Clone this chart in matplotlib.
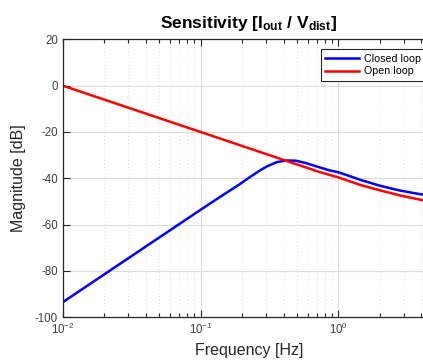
import matplotlib
matplotlib.use('Agg')
import matplotlib.pyplot as plt
from matplotlib.ticker import LogLocator, NullFormatter

plt.rcParams['font.family'] = ['Liberation Sans', 'DejaVu Sans']
plt.rcParams['mathtext.fontset'] = 'custom'
plt.rcParams['mathtext.rm'] = 'Liberation Sans'
plt.rcParams['mathtext.bf'] = 'Liberation Sans:bold'
plt.rcParams['mathtext.it'] = 'Liberation Sans:italic'
plt.rcParams['axes.unicode_minus'] = False

# Values (frequency in Hz, magnitude in dB)
freq_closed = [0.01, 0.1, 0.138, 0.17, 0.193, 0.22, 0.24, 0.27, 0.30, 0.357,
               0.42, 0.49, 0.58, 0.73, 0.865, 1.0, 1.2, 1.43, 2.0, 2.8, 3.96, 5.0]
mag_closed = [-93.5, -53.6, -48.1, -44.6, -42.5, -40.1, -38.6, -36.6, -35.0, -33.0,
              -32.3, -32.4, -33.4, -35.3, -36.6, -37.4, -39.0, -40.6, -43.2,
              -45.3, -46.9, -47.8]

freq_open = [0.01, 0.1, 0.5, 0.73, 1.0, 1.43, 2.0, 2.8, 3.96, 5.0]
mag_open = [0.0, -20.0, -34.0, -37.3, -39.6, -42.8, -45.2, -47.4, -49.3, -50.6]

labels = ['Closed loop', 'Open loop']
colors = ['#0000ff', '#ff0000']
y_ticks = [-100, -80, -60, -40, -20, 0, 20]

W, H = 423, 363
fig = plt.figure(figsize=(W / 100, H / 100), dpi=100)
ax = fig.add_axes([62.7 / W, 1 - 317.3 / H, (434.8 - 62.7) / W, (317.3 - 39.3) / H])

ax.semilogx(freq_closed, mag_closed, color=colors[0], lw=1.8, label=labels[0])
ax.semilogx(freq_open, mag_open, color=colors[1], lw=1.8, label=labels[1])

ax.set_xlim(0.01, 5)
ax.set_ylim(-100, 20)
ax.set_yticks(y_ticks)
ax.xaxis.set_minor_locator(LogLocator(base=10, subs=range(2, 10), numticks=20))
ax.xaxis.set_minor_formatter(NullFormatter())

ax.grid(True, which='major', color='#dcdcdc', lw=0.8, ls='-')
ax.grid(True, which='minor', axis='x', color='#dadada', lw=0.7, ls=(0, (1, 2.5)))
ax.set_axisbelow(True)

for s in ax.spines.values():
    s.set_color('#262626')
    s.set_linewidth(0.9)
ax.tick_params(which='both', direction='in', top=True, right=True,
               colors='#262626', labelsize=8.3, width=0.8)
ax.tick_params(which='major', length=5)
ax.tick_params(which='minor', length=3)
for lbl in ax.get_xticklabels() + ax.get_yticklabels():
    lbl.set_color('#404040')

ax.set_xlabel('Frequency [Hz]', fontsize=11.5, color='#262626', labelpad=4)
ax.set_ylabel('Magnitude [dB]', fontsize=11.5, color='#262626', labelpad=6)
ax.set_title(r'Sensitivity [$\mathbf{I_{out}}$ / $\mathbf{V_{dist}}$]',
             fontsize=12.5, fontweight='bold', pad=8)

leg = ax.legend(loc='upper left', bbox_to_anchor=(0.6934, 0.964),
                borderaxespad=0, fontsize=7.7, handlelength=3.2,
                handletextpad=0.42, labelspacing=0.25, fancybox=False,
                framealpha=1, edgecolor='#262626', borderpad=0.4)
leg.get_frame().set_linewidth(0.8)

fig.savefig('out.png', dpi=100)
